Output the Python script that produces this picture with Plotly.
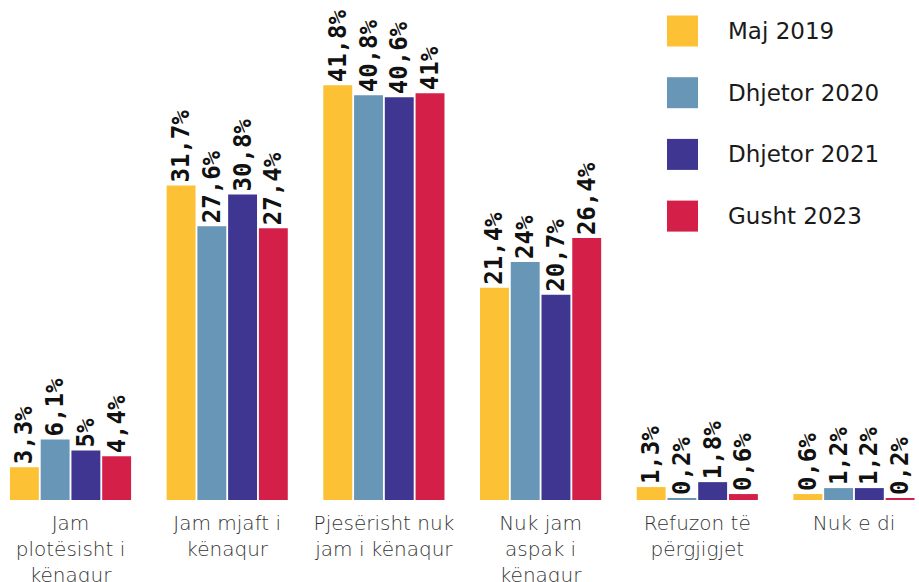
import plotly.graph_objects as go

categories = [
    "Jam<br>plotësisht i<br>kënaqur",
    "Jam mjaft i<br>kënaqur",
    "Pjesërisht nuk<br>jam i kënaqur",
    "Nuk jam<br>aspak i<br>kënaqur",
    "Refuzon të<br>përgjigjet",
    "Nuk e di",
]
series_names = ["Maj 2019", "Dhjetor 2020", "Dhjetor 2021", "Gusht 2023"]
maj_2019 = [3.3, 31.7, 41.8, 21.4, 1.3, 0.6]
dhjetor_2020 = [6.1, 27.6, 40.8, 24, 0.2, 1.2]
dhjetor_2021 = [5, 30.8, 40.6, 20.7, 1.8, 1.2]
gusht_2023 = [4.4, 27.4, 41, 26.4, 0.6, 0.2]
colors = ["#FCC134", "#6796B7", "#3E3691", "#D42049"]

FONT = "DejaVu Sans"


def fmt(v):
    return f"{v:g}".replace(".", ",") + "%"


fig = go.Figure()
for name, vals, col in zip(series_names,
                           [maj_2019, dhjetor_2020, dhjetor_2021, gusht_2023],
                           colors):
    fig.add_trace(go.Bar(
        x=list(range(len(categories))),
        y=vals,
        name=name,
        marker=dict(color=col, line=dict(width=0)),
        text=[fmt(v) for v in vals],
        textposition="outside",
        textangle=-90,
        constraintext="none",
        textfont=dict(family="DejaVu Sans Mono", size=24, color="#111", weight="bold"),
        cliponaxis=False,
        showlegend=False,
        hoverinfo="skip",
    ))

# legend drawn as squares + labels on the right
for i, (name, col) in enumerate(zip(series_names, colors)):
    yc = 31 + i * 61.7
    fig.add_shape(type="rect", xref="paper", yref="paper",
                  x0=667 / 919, x1=698 / 919,
                  y0=1 - (yc + 15.5) / 500, y1=1 - (yc - 15.5) / 500,
                  fillcolor=col, line=dict(width=0))
    fig.add_annotation(xref="paper", yref="paper", x=726 / 919,
                       y=1 - yc / 500, text=name, showarrow=False,
                       xanchor="left", yanchor="middle",
                       font=dict(family=FONT, size=23, color="#1a1a1a"))

fig.update_layout(
    width=919,
    height=582,
    margin=dict(l=0, r=0, t=0, b=82),
    barmode="group",
    bargap=0.215,
    bargroupgap=0.06,
    plot_bgcolor="white",
    paper_bgcolor="white",
    xaxis=dict(
        range=[-0.45, 5.415],
        tickmode="array",
        tickvals=list(range(len(categories))),
        ticktext=categories,
        showline=False, showgrid=False, zeroline=False,
        ticks="",
        automargin=False,
        ticklabelstandoff=9,
        tickfont=dict(family=FONT, size=20, color="#333", weight=300),
    ),
    yaxis=dict(range=[0, 50.4], visible=False),
)

fig.write_html("out.html", config={"displayModeBar": False},
               post_script="document.body.style.margin='0';")
